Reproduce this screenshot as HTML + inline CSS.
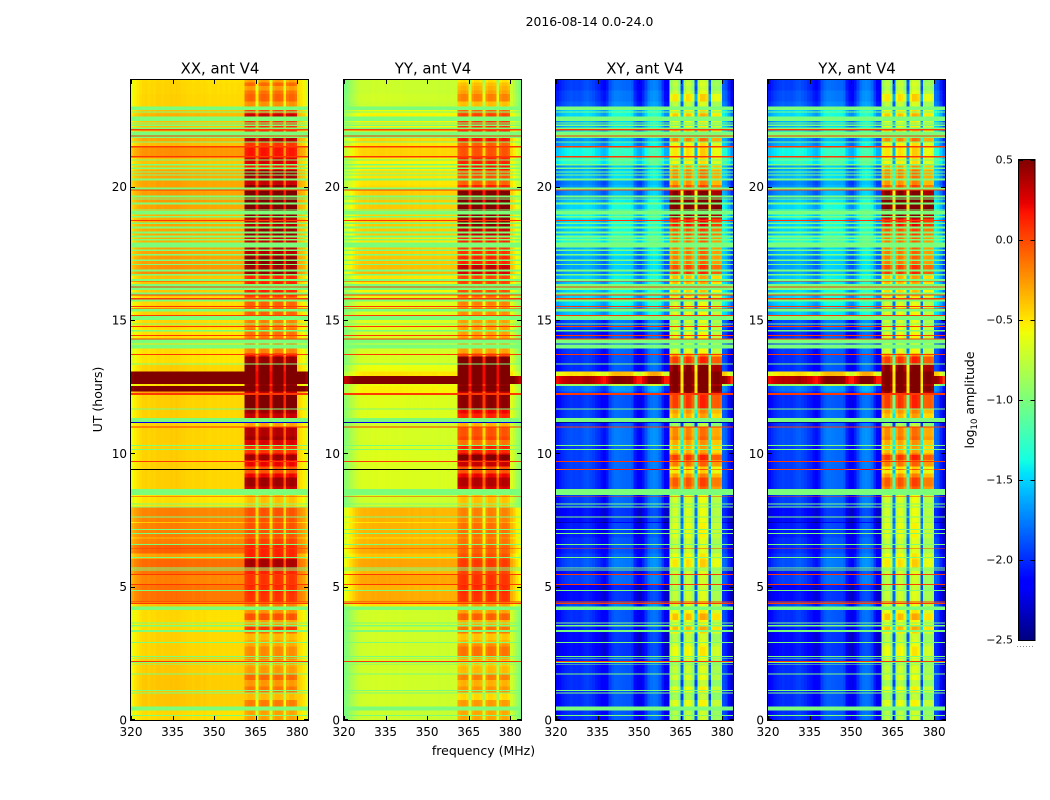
<!DOCTYPE html>
<html lang="en">
<head>
<meta charset="utf-8">
<title>2016-08-14 0.0-24.0</title>
<style>
html,body{margin:0;padding:0;background:#fff;width:1050px;height:800px;overflow:hidden}
svg{display:block}
text{font-family:"DejaVu Sans","Liberation Sans",sans-serif;fill:#000}
</style>
</head>
<body>
<svg id="figure" xmlns="http://www.w3.org/2000/svg" width="1050" height="800" viewBox="0 0 1050 800">
  <rect x="0" y="0" width="1050" height="800" fill="#fff"/>
  <text x="589.5" y="26" font-size="12.4" text-anchor="middle">2016-08-14 0.0-24.0</text>
  <text x="483.5" y="755" font-size="12.5" text-anchor="middle">frequency (MHz)</text>
  <text x="102" y="399.5" font-size="12.5" text-anchor="middle" transform="rotate(-90 102 399.5)">UT (hours)</text>
  <text x="974" y="400" font-size="12.5" text-anchor="middle" transform="rotate(-90 974 400)">log<tspan font-size="8.5" dy="3">10</tspan><tspan dy="-3"> amplitude</tspan></text>
  <g id="panels"></g>
  <g id="colorbar"></g>
</svg>
<script>
// ---- time segments (UT hours, descending) ----
const segmentEdges = [24,23.9,23.775,23.6,23.475,23.19,23.0,
22.75,22.625,22.175,21.875,21.69,21.475,
21.15,20.85,20.625,20.31,20.06,19.85,
19.56,19.375,19.125,18.81,18.5,18.125,
17.75,17.375,17.06,16.875,16.69,16.375,
15.875,15.56,15.19,14.69,14.375,13.75,
13.625,13.31,13.06,12.9,12.6,12.525,
12.31,12.19,11.65,11.325,11.175,11.14,
11.0,10.625,10.31,9.94,9.5,9.41,
9.375,9.1,8.66,7.96,7.425,7.39,
6.85,6.8,6.56,6.25,6.04,5.71,
5.475,5.06,4.84,4.45,4.125,3.5,
3.35,2.875,2.375,1.75,1.25,.5,0];

// ---- log10 amplitude per segment: off-band (Off) and in-band (On) ----
const xxOff = [-.48,-.47,-.47,-.47,-.46,-.46,
-.4,-.35,-.4,-.4,-.32,-.38,
-.25,-.4,-.38,-.32,-.3,-.3,
-.28,-.28,-.3,-.35,-.32,-.32,
-.35,-.3,-.28,-.25,-.22,-.4,
-.42,-.47,-.45,-.47,-.5,-.5,
-.5,-.5,-.45,.6,.6,-.5,
.6,-.3,-.45,-.45,-.45,-2.2,
-.45,-.45,-.45,-.45,-.45,-.45,
1.5,-.45,-.45,-.5,-.2,-.42,
-.2,-.38,-.2,-.1,-.3,-.12,
-.15,-.2,-.15,-.15,-.4,-.48,
-.48,-.46,-.46,-.43,-.42,-.42,-.48];
const xxOn = [-.3,-.12,-.28,-.15,-.1,-.25,
0,.3,.05,.1,.35,.05,
.15,.25,.15,.4,.3,.45,
.55,.55,.55,.45,.35,.42,
.3,.35,.45,.4,.42,.1,
.1,-.1,-.1,-.2,-.15,-.2,
.15,.42,.55,.6,.6,.45,
.6,.3,.42,.3,-.3,-2.2,
-.3,.25,.3,.15,.3,.1,
1.5,.1,.3,-.4,-.05,-.2,
-.05,-.15,0,.1,.05,.3,
.05,0,.05,.05,-.2,-.25,
-.1,-.28,-.28,-.28,-.22,-.28,-.3];
const yyOff = [-.72,-.72,-.72,-.72,-.7,-.72,
-.6,-.55,-.55,-.5,-.45,-.5,
-.45,-.55,-.55,-.5,-.5,-.48,
-.42,-.42,-.42,-.45,-.42,-.42,
-.5,-.42,-.4,-.38,-.36,-.5,
-.55,-.65,-.65,-.65,-.68,-.68,
-.68,-.68,-.6,-.5,.6,-.6,
-.55,-.55,-.65,-.65,-.7,-2.2,
-.7,-.68,-.68,-.66,-.66,-.66,
1.5,-.66,-.66,-.7,-.35,-.5,
-.35,-.5,-.35,-.32,-.4,-.3,
-.35,-.3,-.35,-.32,-.5,-.7,
-.7,-.7,-.7,-.7,-.7,-.7,-.72];
const yyOn = [-.5,-.4,-.35,-.3,-.2,-.4,
-.1,0,.05,.1,.15,-.1,
-.05,.1,.15,-.05,-.1,.1,
.55,.55,.55,.45,.45,.3,
.1,.05,.1,.3,.25,0,
-.05,-.2,-.25,-.3,-.3,-.3,
0,.5,.6,.6,.6,.45,
.6,.3,.35,.1,-.3,-2.2,
-.35,-.15,-.1,.2,.4,.1,
1.5,.1,.25,-.4,-.2,-.3,
-.15,-.25,-.15,-.1,-.1,-.05,
-.05,0,.05,.05,-.3,-.3,
-.3,-.32,-.2,-.38,-.3,-.38,-.32];
const xyOff = [-1.95,-1.95,-1.95,-1.9,-1.9,-1.85,
-1.5,-1.5,-1.6,-1.5,-1.7,-1.6,
-1.4,-1.3,-1.65,-1.6,-1.75,-1.7,
-1.7,-1.55,-1.5,-1.4,-1.5,-1.5,
-1.3,-1.6,-1.65,-1.65,-1.65,-1.55,
-1.5,-1.5,-1.55,-1.9,-2.0,-1.95,
-2.0,-2.0,-2.0,-.5,.35,-.9,
-1.8,-1.9,-2.0,-1.95,-1.95,-2.4,
-1.95,-1.9,-1.9,-1.95,-1.95,-1.95,
0,-1.95,-1.95,-1.95,-2.1,-2.3,
-2.05,-2.0,-2.0,-2.0,-1.95,-1.9,
-2.05,-1.95,-2.15,-2.1,-1.9,-2.0,
-2.05,-2.1,-2.1,-2.0,-2.0,-2.0,-2.0];
const xyOn = [-.85,-.8,-.85,-.75,-.55,-.8,
-.6,-.45,-.65,-.5,-.25,-.6,
-.55,-.6,-.35,-.25,-.3,-.1,
.45,.55,.55,.45,.1,-.1,
-.2,-.2,-.2,-.05,0,-.4,
-.5,-.75,-.7,-.75,-.7,-.7,
-.3,0,.45,.55,.55,.45,
.55,.4,-.1,-.4,-.9,-2.4,
-.9,-.35,-.3,-.3,-.1,-.4,
0,-.4,-.2,-.73,-.73,-.83,
-.68,-.73,-.78,-.78,-.68,-.63,
-.83,-.88,-.88,-.78,-.73,-.63,
-.58,-.73,-.68,-.78,-.83,-.78,-.83];
const yxOff = xyOff.slice();
const yxOn = xyOn.slice();

// ---- in-band row departure in quarter-hour steps, 0..12 UT ----
const inBandRowTexture = [0,0,.1,-.1,.12,-.05,.1,0,-.05,.05,.05,-.05,-.1,.15,-.05,.2,
0,0,0,.02,.05,.05,.05,.08,.05,0,0,0,0,0,0,0,
0,0,0,.1,.1,-.15,-.1,.1,-.1,-.05,.1,.1,0,0,.1,.1];

// ---- per-channel offsets, 1 MHz channels 320..383 ----
const xxChannelOffset = [-.14,-.08,-.04,-.01,.01,.02,.0,.02,.01,.03,
.03,.02,.03,.03,.04,.03,.04,.03,.02,.02,
.01,.01,.0,.01,.01,.0,.01,.0,-.01,.0,
.0,-.01,.0,-.01,.0,-.01,.0,-.01,0,0,
0,-.02,.02,.03,.0,-.4,-.02,.03,.03,.0,
-.4,-.02,.03,.03,0,-.4,-.03,.02,.02,-.03,
0,-.03,-.08,-.2];
const yyChannelOffset = [-.28,-.22,-.16,-.1,-.05,-.02,0,.01,0,.01,
.02,.01,.02,.02,.02,.01,.02,.01,.01,.01,
.02,.01,.01,.0,.01,.0,.0,.01,0,0,
.0,.0,.01,0,-.01,0,0,-.01,0,0,
0,-.02,.02,.03,.0,-.4,-.02,.03,.03,.0,
-.4,-.02,.03,.03,0,-.4,-.03,.02,.02,-.03,
0,-.08,-.18,-.28];
const crossChannelOffset = [-.15,-.1,-.05,-.02,0,.02,.0,.01,.0,.02,
.05,.06,.03,.0,-.05,-.08,-.15,-.18,-.12,.05,
.12,.15,.15,.14,.13,.12,.12,.08,-.1,-.2,
-.22,-.12,.02,.15,.2,.22,.2,.12,-.05,-.2,
-.22,-.1,.05,.05,-.1,-1.05,-.05,.08,.05,-.1,
-1.05,0,.14,.14,.08,-1.05,-.08,-.06,-.05,-.1,
.1,.05,-.1,-.3];

// ---- flagged rows: constant value across every channel ----
const flaggedGreenUpper = [23.0,22.825,22.625,22.41,22.325,22.225,22.075,21.875,21.69,21.025,20.85,20.71,20.575,20.46,20.30,19.96,19.66,19.56,19.40,19.15,19.09,18.90,18.65,18.50,18.31,18.16,18.04,17.91,17.65,17.475,17.275,17.10,16.89,16.725,16.54,16.35,16.225,16.04,15.76,15.41,15.15,14.875,14.625,14.26,14.075,13.375,11.69,11.325,10.31,10.16,8.66,8.125,8.0,7.625,7.16,7.01,6.6,6.11,5.71,5.64,4.875,4.25,3.66,3.56,3.375,2.925,2.4,2.31,2.175,2.1,1.75,1.125,1.025,.5,.19];
const flaggedGreenLower = [22.875,22.775,22.46,22.375,22.275,22.16,21.925,21.825,21.65,20.975,20.80,20.66,20.525,20.425,20.225,19.89,19.60,19.51,19.34,19.10,18.96,18.84,18.60,18.44,18.25,18.09,17.975,17.71,17.59,17.425,17.21,17.06,16.81,16.66,16.46,16.25,16.125,15.95,15.70,15.31,15.0,14.84,14.56,14.125,13.925,13.325,11.65,11.175,10.275,10.125,8.44,8.075,7.96,7.59,7.125,6.975,6.56,6.075,5.675,5.6,4.84,4.125,3.625,3.51,3.3,2.89,2.36,2.29,2.14,2.075,1.71,1.09,.99,.36,.15];
const flaggedRedUpper = [22.16,21.925,21.525,21.15,19.89,18.75,16.45,16.25,15.95,15.825,15.525,15.44,15.19,14.775,14.44,14.30,13.725,12.26,11.0,9.71,8.39,6.45,5.475,5.1,4.45,4.39,2.21];
const flaggedRedLower = [22.11,21.875,21.475,21.10,19.85,18.71,16.425,16.225,15.91,15.76,15.49,15.41,15.15,14.74,14.40,14.26,13.69,12.19,10.96,9.675,8.36,6.425,5.44,5.06,4.41,4.35,2.175];
const flaggedGreenValue = -1.0;
const flaggedRedValue = 0.05;

// ---- axes ticks ----
const xTickValues = [320,335,350,365,380];
const yTickValues = [0,5,10,15,20];
const colorbarTickValues = [0.5,0,-0.5,-1,-1.5,-2,-2.5];
const panelTitles = ['XX, ant V4','YY, ant V4','XY, ant V4','YX, ant V4'];
const panelKeys = ['xx','yy','xy','yx'];
const panelLefts = [131,344,556,768];

const offLevels = [xxOff,yyOff,xyOff,yxOff];
const onLevels = [xxOn,yyOn,xyOn,yxOn];
const channelOffsets = [xxChannelOffset,yyChannelOffset,crossChannelOffset,crossChannelOffset];

// ---- axis functions ----
const NS = 'http://www.w3.org/2000/svg';
const PANEL_W = 177, PANEL_TOP = 80, PANEL_H = 640;
const F_MIN = 320, F_MAX = 383.9, VMIN = -2.5, VMAX = 0.5;
const BAND_FIRST = 361, BAND_LAST = 379, TEX_STEP = 0.25;
function xScale(left, mhz){ return left + (mhz - F_MIN) / (F_MAX - F_MIN) * PANEL_W; }
function yScale(hour){ return PANEL_TOP + (24 - hour) / 24 * PANEL_H; }

function seg(p, pts){
  let n = pts.length - 1, i = 0;
  for (; i < n - 1; i++) { if (p < pts[i+1][0]) break; }
  const a = pts[i], b = pts[i+1];
  return a[1] + (b[1]-a[1]) * Math.max(0, Math.min(1, (p-a[0])/(b[0]-a[0])));
}
function jet(v){
  if (v >= 1) return '#000';
  const p = Math.max(0, Math.min(1, (v - VMIN) / (VMAX - VMIN)));
  const r = seg(p, [[0,0],[.35,0],[.66,1],[.89,1],[1,.5]]);
  const g = seg(p, [[0,0],[.125,0],[.375,1],[.64,1],[.91,0],[1,0]]);
  const b = seg(p, [[0,.5],[.11,1],[.34,1],[.65,0],[1,0]]);
  return 'rgb(' + Math.round(r*255) + ',' + Math.round(g*255) + ',' + Math.round(b*255) + ')';
}
function addRect(parent, x, y, w, h, fill){
  const el = document.createElementNS(NS, 'rect');
  el.setAttribute('x', x.toFixed(2));
  el.setAttribute('y', y.toFixed(2));
  el.setAttribute('width', w.toFixed(2));
  el.setAttribute('height', h.toFixed(2));
  el.setAttribute('fill', fill);
  el.setAttribute('shape-rendering', 'crispEdges');
  parent.appendChild(el);
  return el;
}
function addLine(parent, x1, y1, x2, y2){
  const el = document.createElementNS(NS, 'line');
  el.setAttribute('x1', x1); el.setAttribute('y1', y1);
  el.setAttribute('x2', x2); el.setAttribute('y2', y2);
  el.setAttribute('stroke', '#000');
  el.setAttribute('stroke-width', '1');
  el.setAttribute('shape-rendering', 'crispEdges');
  parent.appendChild(el);
  return el;
}
function addText(parent, x, y, str, size, anchor){
  const el = document.createElementNS(NS, 'text');
  el.setAttribute('x', x); el.setAttribute('y', y);
  el.setAttribute('font-size', size);
  el.setAttribute('text-anchor', anchor);
  el.textContent = str;
  parent.appendChild(el);
  return el;
}
function rowBreaks(top, bottom){
  const out = [top];
  for (let k = Math.ceil(top / TEX_STEP) - 1; k * TEX_STEP > bottom; k--) {
    if (k * TEX_STEP < 12) out.push(k * TEX_STEP);
  }
  out.push(bottom);
  return out;
}

const panelsRoot = document.getElementById('panels');
panelKeys.forEach(function(key, pi){
  const left = panelLefts[pi];
  const group = document.createElementNS(NS, 'g');
  
  
  panelsRoot.appendChild(group);

  const off = offLevels[pi], on = onLevels[pi], prof = channelOffsets[pi];
  for (let s = 0; s < off.length; s++) {
    const top = segmentEdges[s], bottom = segmentEdges[s+1];
    const breaks = rowBreaks(top, bottom);
    for (let c = 0; c < prof.length; c++) {
      const mhz = F_MIN + c;
      const inBand = mhz >= BAND_FIRST && mhz <= BAND_LAST;
      const x0 = xScale(left, mhz), x1 = xScale(left, mhz + 1);
      const w = Math.min(x1, left + PANEL_W) - x0 + .2;
      if (!inBand) {
        const y0 = yScale(top), y1 = yScale(bottom);
        const v = off[s] >= 1 ? 2 : off[s] + prof[c];
        const cell = addRect(group, x0, y0, w, y1 - y0 + .2, jet(v));
        
        
      } else {
        for (let b = 0; b < breaks.length - 1; b++) {
          const mid = (breaks[b] + breaks[b+1]) / 2;
          const tex = mid < 12 ? inBandRowTexture[Math.floor(mid / TEX_STEP)] : 0;
          const y0 = yScale(breaks[b]), y1 = yScale(breaks[b+1]);
          const v = on[s] >= 1 ? 2 : on[s] + tex + prof[c];
          const cell = addRect(group, x0, y0, w, y1 - y0 + .2, jet(v));
          
          
        }
      }
    }
  }
  flaggedGreenUpper.forEach(function(u, i){
    const y0 = yScale(u), y1 = yScale(flaggedGreenLower[i]);
    const row = addRect(group, left, y0, PANEL_W, y1 - y0, jet(flaggedGreenValue));
    
    
  });
  flaggedRedUpper.forEach(function(u, i){
    const y0 = yScale(u), y1 = yScale(flaggedRedLower[i]);
    const row = addRect(group, left, y0, PANEL_W, y1 - y0, jet(flaggedRedValue));
    
    
  });

  // frame
  const frame = document.createElementNS(NS, 'rect');
  frame.setAttribute('x', left - .5);
  frame.setAttribute('y', PANEL_TOP - .5);
  frame.setAttribute('width', PANEL_W + 1);
  frame.setAttribute('height', PANEL_H + 1);
  frame.setAttribute('fill', 'none');
  frame.setAttribute('stroke', '#000');
  frame.setAttribute('shape-rendering', 'crispEdges');
  
  
  group.appendChild(frame);

  // title
  const title = addText(group, left + PANEL_W / 2 + .5, 73.5, panelTitles[pi], 14.9, 'middle');
  
  

  // x ticks
  xTickValues.forEach(function(t){
    const x = Math.round(xScale(left, t)) + .5;
    const tb = addLine(group, x, PANEL_TOP + PANEL_H, x, PANEL_TOP + PANEL_H - 4);
    
    
    const tt = addLine(group, x, PANEL_TOP, x, PANEL_TOP + 4);
    
    
    const lb = addText(group, xScale(left, t), 736, String(t), 12, 'middle');
    
    
  });
  // y ticks
  yTickValues.forEach(function(t){
    const y = Math.round(yScale(t)) + (t === 0 ? -.5 : .5);
    const tl = addLine(group, left, y, left + 4, y);
    
    
    const tr = addLine(group, left + PANEL_W, y, left + PANEL_W - 4, y);
    
    
    const lb = addText(group, left - 4, yScale(t) + 4.5, String(t), 12, 'end');
    
    
  });
});

// ---- colorbar ----
const cb = document.getElementById('colorbar');
const CB_X = 1019, CB_W = 15.5, CB_TOP = 160, CB_H = 480;
function cbY(v){ return CB_TOP + (VMAX - v) / (VMAX - VMIN) * CB_H; }
for (let i = 0; i < 240; i++) {
  const v0 = VMAX - i * (VMAX - VMIN) / 240;
  const v1 = v0 - (VMAX - VMIN) / 240;
  const strip = addRect(cb, CB_X, cbY(v0), CB_W, cbY(v1) - cbY(v0) + .3, jet((v0 + v1) / 2));
  
  
}
const cbFrame = document.createElementNS(NS, 'rect');
cbFrame.setAttribute('x', CB_X - .5);
cbFrame.setAttribute('y', CB_TOP - .5);
cbFrame.setAttribute('width', CB_W + 1);
cbFrame.setAttribute('height', CB_H + 1);
cbFrame.setAttribute('fill', 'none');
cbFrame.setAttribute('stroke', '#000');
cbFrame.setAttribute('shape-rendering', 'crispEdges');


cb.appendChild(cbFrame);
colorbarTickValues.forEach(function(v){
  const y = Math.round(cbY(v)) + .5;
  const t1 = addLine(cb, CB_X, y, CB_X + 4, y);
  
  
  const t2 = addLine(cb, CB_X + CB_W, y, CB_X + CB_W - 4, y);
  
  
  const str = (v < 0 ? '\u2212' : '') + Math.abs(v).toFixed(1);
  const lb = addText(cb, 1013, cbY(v) + 3.5, str, 11, 'end');
  
  
});
const dots = document.createElementNS(NS, 'line');
dots.setAttribute('x1', 1017); dots.setAttribute('y1', 646.5);
dots.setAttribute('x2', 1035); dots.setAttribute('y2', 646.5);
dots.setAttribute('stroke', '#888');
dots.setAttribute('stroke-dasharray', '1 2');


cb.appendChild(dots);
</script>
</body>
</html>
